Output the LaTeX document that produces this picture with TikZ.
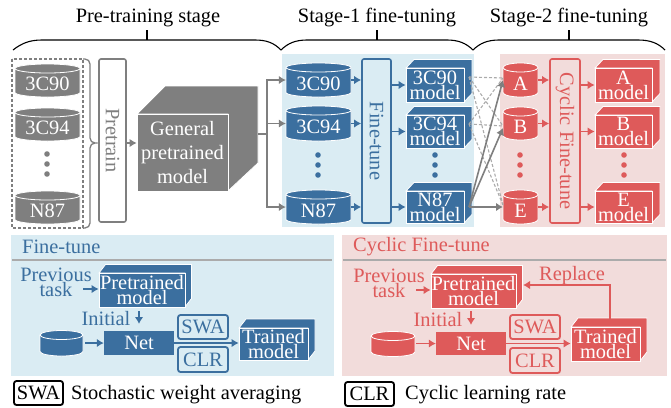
\documentclass[tikz,border=0pt]{standalone}
\usepackage{fontspec}
\setmainfont{Liberation Serif}
\usetikzlibrary{arrows.meta,calc}
\definecolor{bluec}{HTML}{3B6F9F}
\definecolor{bluebg}{HTML}{DAECF3}
\definecolor{redc}{HTML}{DE5A5A}
\definecolor{redbg}{HTML}{F2DCDB}
\definecolor{grayc}{HTML}{7F7F7F}
\definecolor{lgray}{HTML}{ABABAB}
\newcommand\fontA{\fontsize{20.4}{15}\selectfont\lineskiplimit=-100pt\relax}
\newcommand\fontB{\fontsize{20.4}{24}\selectfont\lineskiplimit=-100pt\relax}
\tikzset{
  every node/.style={font=\fontA,inner sep=0pt,align=center},
  arr/.style={line width=1.6pt,-{Latex[length=7pt,width=8.5pt]}},
  tall/.style={font=\fontB},
  dashg/.style={line width=1.1pt,lgray,dash pattern=on 3pt off 2pt},
  solidg/.style={line width=1.6pt,grayc,-{Latex[length=7pt,width=8.5pt]}},
  brc/.style={line width=1.1pt,black},
  roundbox/.style={rounded corners=2pt,line width=1.6pt},
  tagbox/.style={draw,rounded corners=2.5pt,line width=1.8pt},
}
% name x1 y1 x2 y2 colour text
\newcommand\Cyl[7]{%
  \pgfmathsetmacro\cw{(#4-#2)/2}
  \pgfmathsetmacro\cx{(#2+#4)/2}
  \pgfmathsetmacro\cy{(#3+#5)/2}
  \path[fill=#6,draw=white,line width=.8pt] (#2,#3+4.5) arc[x radius=\cw,y radius=4.5,start angle=180,end angle=360] -- (#4,#5-4.5) arc[x radius=\cw,y radius=4.5,start angle=0,end angle=180] -- cycle;
  \draw[white,line width=.8pt] (#2,#3+4.5) arc[x radius=\cw,y radius=4.5,start angle=180,end angle=0];
  \node[minimum width={(#4-#2)*1pt},minimum height={(#5-#3)*1pt}] (#1) at (\cx,\cy) {};
  \node[white] (#1t) at (\cx,\cy+3.5) {#7};
}
% name x1 y1 x2 y2 dx dy colour text
\newcommand\Cube[9]{%
  \path[fill=#8,draw=white,line width=.8pt] (#2,#3) -- ({#2+#6},{#3-#7}) -- ({#4+#6},{#3-#7}) -- ({#4+#6},{#5-#7}) -- (#4,#5) -- (#4,#3) -- cycle;
  \node[fill=#8,draw=white,line width=.8pt,text=white,minimum width={(#4-#2)*1pt},minimum height={(#5-#3)*1pt}] (#1) at ({(#2+#4)/2},{(#3+#5)/2}) {#9};
}
\newcommand\Dots[3]{\fill[#3] (#1,#2) circle[radius=2.8] (#1,#2+10) circle[radius=2.8] (#1,#2+20) circle[radius=2.8];}
\newcommand\Bx[7]{%
  \node[#6,minimum width={(#4-#2)*1pt},minimum height={(#5-#3)*1pt}] (#1) at ({(#2+#4)/2},{(#3+#5)/2}) {#7};
}
\begin{document}
\begin{tikzpicture}[x=1pt,y=-1pt]
\useasboundingbox (0,0) rectangle (671,407);
% backgrounds
\fill[bluebg] (282,54) rectangle (474,227);
\fill[redbg] (500,54) rectangle (665,227);
\fill[bluebg] (11,235) rectangle (334,376);
\fill[redbg] (342,235) rectangle (667,376);
% stage titles
\node (t1) at (148,18) {Pre-training stage};
\node (t2) at (377,18) {Stage-1 fine-tuning};
\node (t3) at (569,18) {Stage-2 fine-tuning};
\draw[brc] (13,50) .. controls (22,43) and (30,40) .. (42,40) -- (255,40) .. controls (267,40) and (274,43) .. (281,50);
\draw[brc] (147,30) -- (147,40);
\draw[brc] (281,50) .. controls (288,43) and (296,40) .. (307,40) -- (447,40) .. controls (458,40) and (466,43) .. (473,50);
\draw[brc] (377,30) -- (377,40);
\draw[brc] (473,50) .. controls (480,43) and (488,40) .. (499,40) -- (638,40) .. controls (650,40) and (658,43) .. (665,50);
\draw[brc] (569,30) -- (569,40);
% pre-training
\draw[grayc,line width=1.2pt,dash pattern=on 3pt off 2pt] (12,59) rectangle (83,228);
\Cyl{pa}{15}{64}{80}{97}{grayc}{3C90}
\Cyl{pb}{15}{108}{80}{141}{grayc}{3C94}
\Dots{47}{154}{grayc}
\Cyl{pc}{15}{191}{80}{224}{grayc}{N87}
\draw[grayc,line width=1.3pt,rounded corners=5pt] (83,59) -- (90,59) -- (90,143) -- (98,143) -- (90,143) -- (90,228) -- (83,228);
\Bx{pre}{99}{59}{126}{222}{draw=grayc,roundbox,fill=white}{\rotatebox{-90}{\textcolor{grayc}{Pretrain}}}
\path[fill=grayc,draw=white,line width=.8pt] (137,114) -- (165,86) -- (258,86) -- (258,163) -- (228,191) -- (228,114) -- cycle;
\node[tall,fill=grayc,draw=white,line width=.8pt,text=white,minimum width=91pt,minimum height=77pt] (gen) at (182.5,152.5) {General\\pretrained\\model};
\coordinate (gy) at (0,143);
\draw[arr,grayc] (pre.east |- gy) -- (gen.west |- gy);
\coordinate (fork) at (267,134);
\coordinate (gout) at (258,134);
\draw[grayc,line width=1.6pt] (gout) -- (fork);
% stage-1
\Cyl{sa}{286}{63}{351}{97}{bluec}{3C90}
\Cyl{sb}{286}{106}{351}{141}{bluec}{3C94}
\Dots{318}{155}{bluec}
\Cyl{sc}{286}{190}{351}{224}{bluec}{N87}
\draw[arr,grayc] (fork) |- (sa.west);
\draw[arr,grayc] (fork) |- (sb.west);
\draw[arr,grayc] (fork) |- (sc.west);
\Bx{ft}{362}{59}{391}{223}{draw=bluec,roundbox,fill=bluebg}{\rotatebox{-90}{\textcolor{bluec}{Fine-tune}}}
\Cube{ma}{406}{68}{464}{102}{8}{8.5}{bluec}{3C90\\model}
\Cube{mb}{406}{115}{464}{148}{8}{8.5}{bluec}{3C94\\model}
\Dots{435}{155}{bluec}
\Cube{mc}{406}{191}{464}{223}{8}{8.5}{bluec}{N87\\model}
\foreach \a in {a,b,c}{\draw[arr,bluec] (s\a.east) -- (s\a.east -| ft.west);}
\draw[arr,bluec] (ft.east |- ma.west) -- (ma.west);
\draw[arr,bluec] (ft.east |- mb.west) -- (mb.west);
\draw[arr,bluec] (ft.east |- mc.west) -- (mc.west);
% stage-2
\Cyl{ra}{503}{63}{538}{97}{redc}{A}
\Cyl{rb}{503}{107}{538}{140}{redc}{B}
\Dots{520}{155}{redc}
\Cyl{rc}{503}{190}{538}{224}{redc}{E}
\Bx{cf}{550}{59}{580}{223}{draw=redc,roundbox,fill=redbg}{\rotatebox{-90}{\textcolor{redc}{Cyclic Fine-tune}}}
\Cube{na}{595}{68}{652}{102}{8}{8.5}{redc}{A\\model}
\Cube{nb}{595}{115}{652}{148}{8}{8.5}{redc}{B\\model}
\Dots{624}{155}{redc}
\Cube{nc}{595}{191}{652}{223}{8}{8.5}{redc}{E\\model}
\foreach \a in {a,b,c}{\draw[arr,redc] (r\a.east) -- (r\a.east -| cf.west);}
\draw[arr,redc] (cf.east |- na.west) -- (na.west);
\draw[arr,redc] (cf.east |- nb.west) -- (nb.west);
\draw[arr,redc] (cf.east |- nc.west) -- (nc.west);
% cross connectors
\coordinate (oa) at (469,77);
\coordinate (ob) at (469,124);
\coordinate (oc) at (469,207);
\coordinate (ia) at (503,78);
\coordinate (ib) at (503,126);
\coordinate (ic) at (503,205);
\coordinate (ja) at (503,80);
\coordinate (jb) at (503,128);
\coordinate (jc) at (503,207);
\foreach \s in {oa,ob}{\foreach \e in {ia,ib,ic}{\draw[dashg] (\s) -- (\e);}}
\foreach \e in {ja,jb,jc}{\draw[solidg] (oc) -- (\e);}
% fine-tune panel
\node[bluec,anchor=west] (ftt) at (22,247) {Fine-tune};
\draw[lgray,line width=1.5pt] (12,260) -- (332,260);
\node[bluec] (fp) at (56,282) {Previous\\task};
\Cube{fm}{99}{273}{185}{307}{6.5}{8.5}{bluec}{Pretrained\\model}
\node[bluec] (fi) at (106,319) {Initial};
\Bx{fn}{104}{331}{174}{355}{fill=bluec,text=white}{Net}
\path[fill=bluec,draw=white,line width=.8pt] (40,335) arc[x radius=21.5,y radius=4.5,start angle=180,end angle=360] -- (83,351.5) arc[x radius=21.5,y radius=4.5,start angle=0,end angle=180] -- cycle;
\draw[white,line width=.8pt] (40,335) arc[x radius=21.5,y radius=4.5,start angle=180,end angle=0];
\node[minimum width=43pt,minimum height=26pt] (fd) at (61.5,343) {};
\Bx{fs}{178}{315}{228}{339}{tagbox,bluec,text=bluec}{SWA}
\Bx{fc}{178}{347}{228}{372}{tagbox,bluec,text=bluec}{CLR}
\Cube{ft2}{239}{328}{308}{360}{7}{9}{bluec}{Trained\\model}
\coordinate (fa) at (83,289);
\draw[arr,bluec] (fa) -- (fm.west |- fa);
\coordinate (fb) at (139,311);
\coordinate (fb2) at (139,324);
\draw[arr,bluec] (fb) -- (fb2);
\draw[arr,bluec] (fd.east |- fn.west) ++(2,0) -- (fn.west);
\draw[arr,bluec] (fn.east) -- (ft2.west |- fn.east);
% cyclic panel
\node[redc,anchor=west] (ctt) at (353,247) {Cyclic Fine-tune};
\draw[lgray,line width=1.5pt] (343,260) -- (666,260);
\node[redc] (cp) at (389,283) {Previous\\task};
\Cube{cm}{431}{274}{516}{308}{6.5}{8.5}{redc}{Pretrained\\model}
\node[redc] (ci) at (438,320) {Initial};
\Bx{cn}{436}{332}{506}{355}{fill=redc,text=white}{Net}
\path[fill=redc,draw=white,line width=.8pt] (371,336) arc[x radius=22,y radius=4.5,start angle=180,end angle=360] -- (415,352) arc[x radius=22,y radius=4.5,start angle=0,end angle=180] -- cycle;
\draw[white,line width=.8pt] (371,336) arc[x radius=22,y radius=4.5,start angle=180,end angle=0];
\node[minimum width=44pt,minimum height=26pt] (cd) at (393,344) {};
\Bx{cs}{510}{315}{560}{339}{tagbox,redc,text=redc}{SWA}
\Bx{cc}{510}{348}{560}{373}{tagbox,redc,text=redc}{CLR}
\Cube{ct2}{571}{327}{640}{361}{7}{9}{redc}{Trained\\model}
\node[redc] (cr) at (572,276) {Replace};
\coordinate (ca) at (416,290);
\draw[arr,redc] (ca) -- (cm.west |- ca);
\coordinate (cb) at (471,311);
\coordinate (cb2) at (471,325);
\draw[arr,redc] (cb) -- (cb2);
\draw[arr,redc] (cd.east |- cn.west) ++(1,0) -- (cn.west);
\draw[arr,redc] (cn.east) -- (ct2.west |- cn.east);
\coordinate (rp) at (610,319);
\coordinate (rq) at (523,285);
\draw[arr,redc] (rp) |- (rq);
% legend
\Bx{ls}{14}{381}{63}{405}{tagbox,black}{SWA}
\node[anchor=base west] (lst) at (71,399) {Stochastic weight averaging};
\Bx{lc}{345}{382}{394}{406}{tagbox,black}{CLR}
\node[anchor=base west] (lct) at (405,399) {Cyclic learning rate};
\end{tikzpicture}
\end{document}
